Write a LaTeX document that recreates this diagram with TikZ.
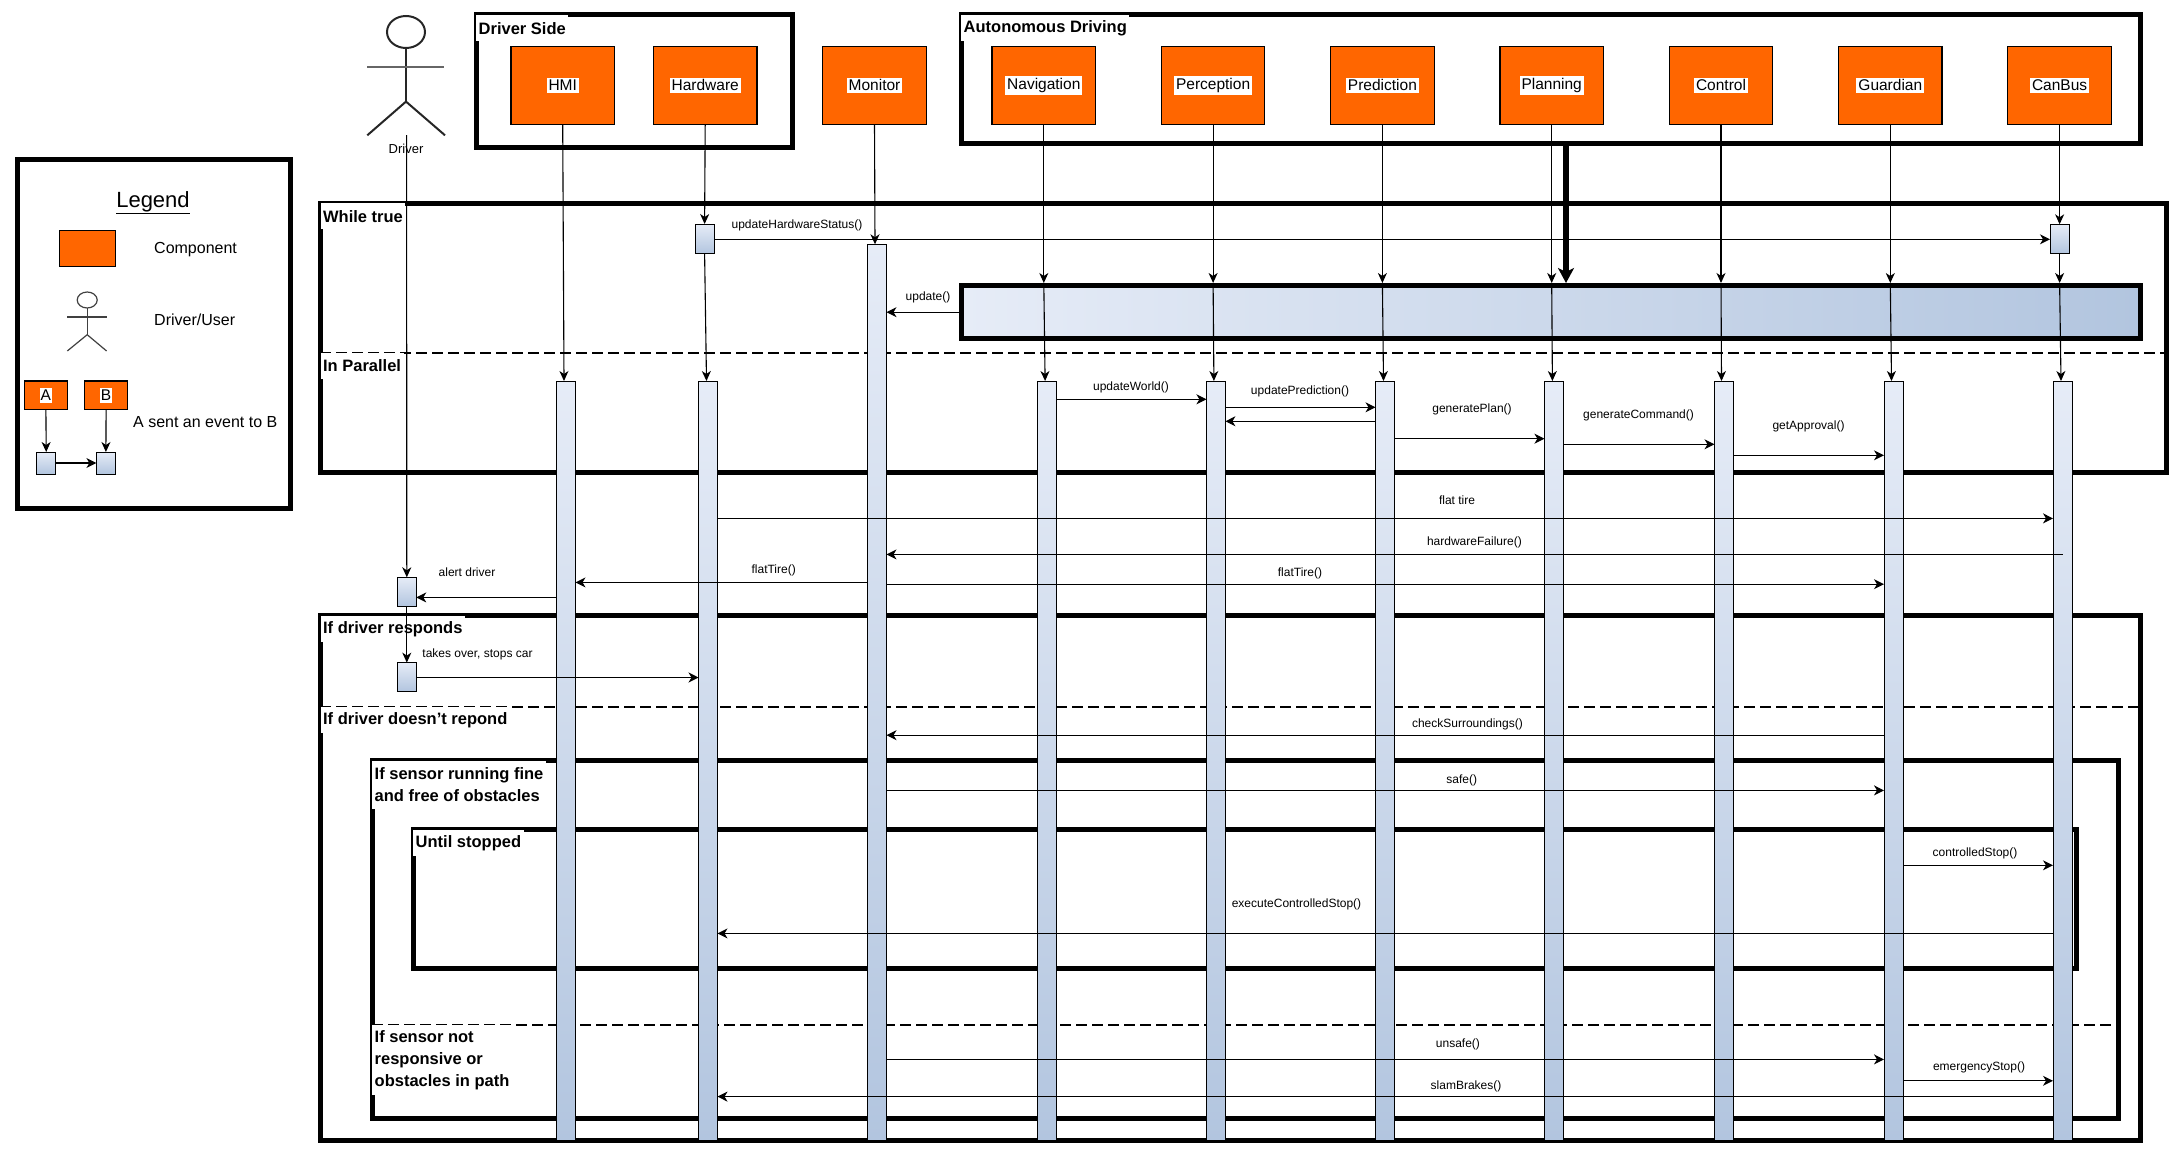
\documentclass[tikz,border=0pt]{standalone}
\usepackage{fontspec}
\setmainfont{Liberation Sans}
\usetikzlibrary{positioning,arrows.meta}

\definecolor{compfill}{HTML}{FF6600}
\definecolor{barlight}{HTML}{E6ECF7}
\definecolor{bardark}{HTML}{B2C5DF}

\tikzset{
  comp/.style={draw=black,line width=1.2pt,fill=compfill,minimum width=103.5pt,minimum height=78pt,outer sep=0pt},
  complabel/.style={fill=white,inner sep=2pt,font=\fontsize{15.5}{18}\selectfont},
  minicomp/.style={draw=black,line width=1.2pt,fill=compfill,minimum width=43pt,minimum height=28.5pt,outer sep=0pt},
  bar/.style={draw=black,line width=1pt,top color=barlight,bottom color=bardark,minimum width=19pt,anchor=north,outer sep=0pt,inner sep=0pt},
  widebar/.style={bar,minimum width=19.2pt},
  frame/.style={draw=black,line width=5pt,anchor=north west,outer sep=0pt,inner sep=0pt},
  framelabel/.style={fill=white,anchor=north west,inner xsep=2.5pt,inner ysep=0pt,align=left,minimum height=26pt,
    font=\fontsize{16.5}{22}\bfseries\selectfont},
  divider/.style={draw=black,line width=2pt,dash pattern=on 11pt off 5pt},
  life/.style={draw=black,line width=1.1pt,-{Stealth[length=10pt,width=9pt,inset=3pt]}},
  msg/.style={draw=black,line width=1.1pt,-{Stealth[length=10pt,width=10pt,inset=3pt]}},
  bigmsg/.style={draw=black,line width=6pt,-{Stealth[length=15pt,width=16pt,inset=4pt]}},
  msglabel/.style={inner sep=0pt,font=\fontsize{12}{14}\selectfont},
  legendtext/.style={inner sep=0pt,font=\fontsize{16}{18}\selectfont},
  figure/.style={line width=2pt,draw=black!85},
}

\begin{document}
\begin{tikzpicture}[x=1pt,y=-1pt,node distance=65.8pt]
  \useasboundingbox (0,0) rectangle (2181,1156);

  % frames
  \node [frame,minimum width=273pt,minimum height=349pt] (legend) at (17,159) {};
  \node [frame,minimum width=316pt,minimum height=132pt] (driverside) at (476,15) {};
  \node [frame,minimum width=1179pt,minimum height=128pt] (driving) at (961,15) {};
  \node [frame,minimum width=1846pt,minimum height=269pt] (whiletrue) at (320.4,203) {};
  \node [frame,minimum width=1819.6pt,minimum height=524.6pt] (responds) at (320.4,615.8) {};
  \node [frame,minimum width=1746.5pt,minimum height=358pt] (sensor) at (372,760.4) {};
  \node [frame,minimum width=1663pt,minimum height=138.7pt] (until) at (413,829.6) {};

  \draw [divider] (whiletrue.west |- 0,352.7) -- (whiletrue.east |- 0,352.7);
  \draw [divider] (responds.west |- 0,707) -- (responds.east |- 0,707);
  \draw [divider] (sensor.west |- 0,1025) -- (2112,1025);

  \node [framelabel] (driversidelabel) at (driverside.north west) {Driver Side};
  \node [framelabel] (drivinglabel) at (driving.north west) {Autonomous Driving};
  \node [framelabel] (whilelabel) at (whiletrue.north west) {While true};
  \node [framelabel] (parallellabel) at (whiletrue.west |- 0,352.7) {In Parallel};
  \node [framelabel] (respondslabel) at (responds.north west) {If driver responds};
  \node [framelabel] (norespondlabel) at (responds.west |- 0,707) {If driver doesn't repond};
  \node [framelabel,minimum height=48pt] (finelabel) at (sensor.north west) {If sensor running fine\\and free of obstacles};
  \node [framelabel] (untillabel) at (until.north west) {Until stopped};
  \node [framelabel,minimum height=70pt] (unsafelabel) at (sensor.west |- 0,1025) {If sensor not\\responsive or\\obstacles in path};

  % components
  \node [comp] (hmi) at (562.7,85.4) {};
  \node [comp,right=39pt of hmi] (hardware) {};
  \node [comp,right=of hardware] (monitor) {};
  \node [comp,right=of monitor] (navigation) {};
  \node [comp,right=of navigation] (perception) {};
  \node [comp,right=of perception] (prediction) {};
  \node [comp,right=of prediction] (planning) {};
  \node [comp,right=of planning] (control) {};
  \node [comp,right=of control] (guardian) {};
  \node [comp,right=of guardian] (canbus) {};

  \node [complabel] (hmilabel) at (hmi) {HMI};
  \node [complabel] (hardwarelabel) at (hardware) {Hardware};
  \node [complabel] (monitorlabel) at (monitor) {Monitor};
  \node [complabel] (navigationlabel) at (navigation) {Navigation};
  \node [complabel] (perceptionlabel) at (perception) {Perception};
  \node [complabel] (predictionlabel) at (prediction) {Prediction};
  \node [complabel] (planninglabel) at (planning) {Planning};
  \node [complabel] (controllabel) at (control) {Control};
  \node [complabel] (guardianlabel) at (guardian) {Guardian};
  \node [complabel] (canbuslabel) at (canbus) {CanBus};

  % update box
  \node [draw=black,line width=5pt,left color=barlight,right color=bardark,anchor=north west,outer sep=2.5pt,
    inner sep=0pt,minimum width=1179pt,minimum height=53.3pt] (update) at (958.5,283) {};
  \draw [bigmsg] (1566,0 |- driving.south) -- (1566,0 |- update.north);

  % activations
  \node [bar,minimum height=29.2pt] (driverbar) at (406.8,577.3) {};
  \node [bar,minimum height=28.7pt] (takeoverbar) at (406.8,662.6) {};
  \node [bar,minimum height=759.5pt] (hmibar) at (566,381) {};
  \node [bar,minimum height=29.6pt] (hardwarebar) at (704.6,224) {};
  \node [bar,minimum height=759.5pt] (hardwaremain) at (708,381) {};
  \node [bar,minimum height=896pt] (monitorbar) at (877,244.3) {};
  \node [bar,minimum height=759.5pt] (navigationbar) at (1047.1,381) {};
  \node [bar,minimum height=759.5pt] (perceptionbar) at (1215.9,381) {};
  \node [bar,minimum height=759.5pt] (predictionbar) at (1385,381) {};
  \node [bar,minimum height=759.5pt] (planningbar) at (1553.9,381) {};
  \node [bar,minimum height=759.5pt] (controlbar) at (1724,381) {};
  \node [bar,minimum height=759.5pt] (guardianbar) at (1893.5,381) {};
  \node [bar,minimum height=29.4pt] (canbusbar) at (2059.5,224.3) {};
  \node [bar,minimum height=759.5pt] (canbusmain) at (2062.5,381) {};

  % driver
  \draw [figure] (406,32) ellipse (19 and 16);
  \draw [figure] (406,48) -- (406,101.6);
  \draw [figure,draw=black!60] (367.3,66.8) -- (444.4,66.8);
  \draw [figure] (367.3,135.3) -- (406,101.6) -- (445,135.3);
  \node [inner sep=0pt,font=\fontsize{13}{15}\selectfont] (driverlabel) at (406,149) {Driver};
  \coordinate (driverfoot) at (406.6,135);

  % lifelines
  \draw [life] (driverfoot) -- (driverbar.north);
  \draw [life] (driverbar.south) -- (takeoverbar.north);
  \draw [life] (hmi.south) -- ([xshift=-2pt]hmibar.north);
  \draw [life] (hardware.south) -- (hardwarebar.north);
  \draw [life] (hardwarebar.south) -- ([xshift=-1.5pt]hardwaremain.north);
  \draw [life] (monitor.south) -- ([xshift=-2pt]monitorbar.north);
  \draw [life] (navigation.south) -- (navigation.south |- update.north);
  \draw [life] (navigation.south |- update.north) -- ([xshift=-2pt]navigationbar.north);
  \draw [life] (perception.south) -- (perception.south |- update.north);
  \draw [life] (perception.south |- update.north) -- ([xshift=-2pt]perceptionbar.north);
  \draw [life] (prediction.south) -- (prediction.south |- update.north);
  \draw [life] (prediction.south |- update.north) -- ([xshift=-1.5pt]predictionbar.north);
  \draw [life] (planning.south) -- (planning.south |- update.north);
  \draw [life] (planning.south |- update.north) -- ([xshift=-1.5pt]planningbar.north);
  \draw [life] (control.south) -- (control.south |- update.north);
  \draw [life] (control.south |- update.north) -- ([xshift=-2.5pt]controlbar.north);
  \draw [life] (guardian.south) -- (guardian.south |- update.north);
  \draw [life] (guardian.south |- update.north) -- ([xshift=-2pt]guardianbar.north);
  \draw [life] (canbus.south) -- (canbus.south |- canbusbar.north);
  \draw [life] (canbus.south |- canbusbar.south) -- (canbus.south |- update.north);
  \draw [life] (canbus.south |- update.north) -- ([xshift=-1.5pt]canbusmain.north);

  % messages
  \draw [msg] (hardwarebar.east |- 0,239.3) -- (canbusbar.west |- 0,239.3);
  \draw [msg] (update.west) -- (monitorbar.east |- update.west);
  \draw [msg] (navigationbar.east |- 0,399.3) -- (perceptionbar.west |- 0,399.3);
  \draw [msg] (perceptionbar.east |- 0,407.3) -- (predictionbar.west |- 0,407.3);
  \draw [msg] (predictionbar.west |- 0,421.3) -- (perceptionbar.east |- 0,421.3);
  \draw [msg] (predictionbar.east |- 0,438.7) -- (planningbar.west |- 0,438.7);
  \draw [msg] (planningbar.east |- 0,444.3) -- (controlbar.west |- 0,444.3);
  \draw [msg] (controlbar.east |- 0,455.3) -- (guardianbar.west |- 0,455.3);
  \draw [msg] (hardwaremain.east |- 0,518.4) -- (canbusmain.west |- 0,518.4);
  \draw [msg] (canbusmain.north |- 0,554.4) -- (monitorbar.east |- 0,554.4);
  \draw [msg] (monitorbar.west |- 0,582.4) -- (hmibar.east |- 0,582.4);
  \draw [msg] (monitorbar.east |- 0,584.2) -- (guardianbar.west |- 0,584.2);
  \draw [msg] (hmibar.west |- 0,597.4) -- (driverbar.east |- 0,597.4);
  \draw [msg] (takeoverbar.east |- 0,677.5) -- (hardwaremain.west |- 0,677.5);
  \draw [msg] (guardianbar.west |- 0,735.2) -- (monitorbar.east |- 0,735.2);
  \draw [msg] (monitorbar.east |- 0,790.4) -- (guardianbar.west |- 0,790.4);
  \draw [msg] (guardianbar.east |- 0,865.3) -- (canbusmain.west |- 0,865.3);
  \draw [msg] (canbusmain.west |- 0,933.4) -- (hardwaremain.east |- 0,933.4);
  \draw [msg] (monitorbar.east |- 0,1059.4) -- (guardianbar.west |- 0,1059.4);
  \draw [msg] (guardianbar.east |- 0,1080.8) -- (canbusmain.west |- 0,1080.8);
  \draw [msg] (canbusmain.west |- 0,1096.6) -- (hardwaremain.east |- 0,1096.6);

  \node [msglabel] (statuslabel) at (797,225) {updateHardwareStatus()};
  \node [msglabel] (updatelabel) at (928,297.7) {update()};
  \node [msglabel] (worldlabel) at (1131,387.7) {updateWorld()};
  \node [msglabel] (predictlabel) at (1300,391.7) {updatePrediction()};
  \node [msglabel] (planlabel) at (1472,409) {generatePlan()};
  \node [msglabel] (commandlabel) at (1638.5,415) {generateCommand()};
  \node [msglabel] (approvallabel) at (1808.5,426) {getApproval()};
  \node [msglabel] (tirelabel) at (1457,500.5) {flat tire};
  \node [msglabel] (failurelabel) at (1474.4,542.7) {hardwareFailure()};
  \node [msglabel] (hmitirelabel) at (773.7,570.3) {flatTire()};
  \node [msglabel] (guardtirelabel) at (1300,573) {flatTire()};
  \node [msglabel] (alertlabel) at (467,571.8) {alert driver};
  \node [msglabel] (takeslabel) at (477.5,654.7) {takes over, stops car};
  \node [msglabel] (checklabel) at (1467.4,724.7) {checkSurroundings()};
  \node [msglabel] (safelabel) at (1461.8,780.8) {safe()};
  \node [msglabel] (stoplabel) at (1975,853) {controlledStop()};
  \node [msglabel] (executelabel) at (1296.5,904) {executeControlledStop()};
  \node [msglabel] (unsafemsg) at (1457.9,1044) {unsafe()};
  \node [msglabel] (emergencylabel) at (1979,1067) {emergencyStop()};
  \node [msglabel] (slamlabel) at (1466,1086) {slamBrakes()};

  % legend
  \node [inner sep=0pt,font=\fontsize{22}{24}\selectfont] (legendtitle) at (153,203) {\underline{Legend}};
  \node [comp,minimum width=55.6pt,minimum height=35.5pt] (legendcomp) at (87.5,248.5) {};
  \node [legendtext,anchor=west] (legendcomptext) at (154,249.3) {Component};
  \draw [line width=1.2pt,draw=black!75] (87.2,300) ellipse (10 and 8);
  \draw [line width=1.2pt,draw=black!75] (87.2,308) -- (87.2,334.7);
  \draw [line width=1.2pt,draw=black!75] (67.3,317) -- (106.6,317);
  \draw [line width=1.2pt,draw=black!75] (67.3,351) -- (87.2,334.7) -- (106.6,351);
  \node [legendtext,anchor=west] (legenddrivertext) at (154,320) {Driver/User};
  \node [minicomp] (minia) at (45.9,395.3) {};
  \node [minicomp] (minib) at (106.1,395.3) {};
  \node [complabel,inner xsep=1pt] (minialabel) at (minia) {A};
  \node [complabel,inner xsep=1pt] (minibbel) at (minib) {B};
  \node [bar,minimum height=22pt] (barA) at (46.2,452) {};
  \node [bar,minimum height=22pt] (barB) at (105.9,452) {};
  \draw [life] (minia.south) -- (barA.north);
  \draw [life] (minib.south) -- (barB.north);
  \draw [msg] (barA.east |- 0,463) -- (barB.west |- 0,463);
  \node [legendtext,anchor=west] (legendeventtext) at (133,422.5) {A sent an event to B};
\end{tikzpicture}
\end{document}
